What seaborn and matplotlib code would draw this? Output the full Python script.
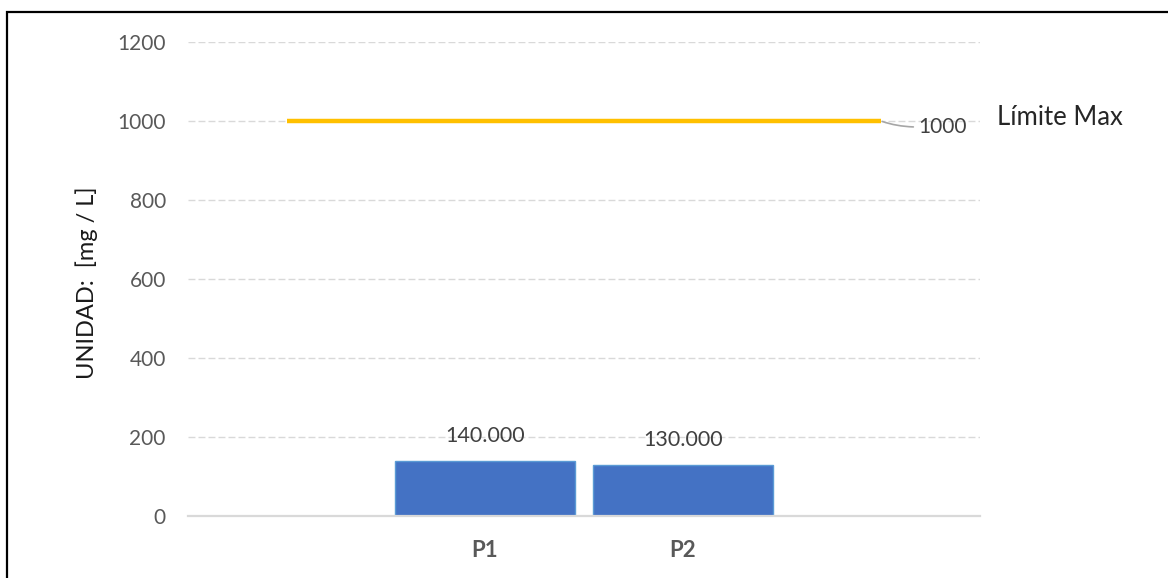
import matplotlib
matplotlib.use("Agg")
import matplotlib.pyplot as plt
import seaborn as sns
import pandas as pd
from matplotlib.patches import Rectangle

# ---- data ----
slots = ["inicio", "P1", "P2", "fin"]          # category slots on the x axis
slot_labels = ["", "P1", "P2", ""]
categories = ["P1", "P2"]
values = [140, 130]
value_labels = ["140.000", "130.000"]
limit_values = [1000, 1000, 1000, 1000]
limit_label_value = "1000"
limit_name = "Límite Max"
yticks = [0, 200, 400, 600, 800, 1000, 1200]
ylabel = "UNIDAD:  [mg / L]"

W, H = 1168, 578

sns.set_theme(style="white")
plt.rcParams['font.family'] = ['Lato', 'DejaVu Sans']

fig = plt.figure(figsize=(W / 100, H / 100), dpi=100)
ax = fig.add_axes([188 / W, 1 - 516 / H, (980 - 188) / W, (516 - 42) / H])

df = pd.DataFrame({"cat": categories, "val": values})
sns.barplot(data=df, x="cat", y="val", order=slots, width=0.91,
            color="#4472C4", saturation=1, edgecolor="#5B9BD5",
            linewidth=1.0, ax=ax, zorder=3)

sns.lineplot(x=list(range(len(slots))), y=limit_values, color="#FFC000",
             linewidth=3.2, ax=ax, zorder=4, solid_capstyle="butt")

ax.set_xlim(-0.5, len(slots) - 0.5)
ax.set_ylim(0, 1200)
ax.set_yticks(yticks)
ax.set_yticklabels([str(t) for t in yticks])
ax.set_xticks(range(len(slots)))
ax.set_xticklabels(slot_labels)

for lab in ax.get_xticklabels():
    lab.set_fontweight("bold")
    lab.set_fontsize(16)
    lab.set_color("#595959")
for lab in ax.get_yticklabels():
    lab.set_fontsize(15)
    lab.set_color("#595959")
ax.tick_params(axis="both", length=0)
ax.tick_params(axis="y", pad=16)
ax.tick_params(axis="x", pad=17)

ax.yaxis.grid(True, linestyle=(0, (5, 2.2)), color="#D9D9D9", linewidth=1.0, zorder=0)
ax.set_axisbelow(True)
for s in ["top", "right", "left"]:
    ax.spines[s].set_visible(False)
ax.spines["bottom"].set_color("#D9D9D9")
ax.spines["bottom"].set_linewidth(1.6)
ax.spines["bottom"].set_zorder(5)

ax.set_xlabel("")
ax.set_ylabel(ylabel, fontsize=17, color="#1A1A1A")
ax.yaxis.label.set_va("center")
ax.yaxis.set_label_coords((87 - 188) / (980 - 188), (516 - 282.5) / (516 - 42))

# bar value labels
for cat, v, txt in zip(categories, values, value_labels):
    ax.annotate(txt, xy=(slots.index(cat), v), xytext=(0, 25),
                textcoords="offset pixels", ha="center", va="center",
                fontsize=15.5, color="#404040", zorder=6)

# limit data label with leader line
ax.annotate(limit_label_value, xy=(len(slots) - 1, limit_values[-1]),
            xytext=(37, -12), textcoords="offset pixels",
            ha="left", va="baseline", fontsize=15, color="#404040",
            arrowprops=dict(arrowstyle="-", color="#A6A6A6", lw=1.2,
                            relpos=(0, 0.5), shrinkA=1, shrinkB=1,
                            connectionstyle="angle3,angleA=0,angleB=-20"),
            zorder=6)

# series name on the right
fig.text(997 / W, 1 - 125 / H, limit_name, ha="left", va="baseline",
         fontsize=18.5, color="#262626")

# frame (left/top border visible, rest cut off)
fig.patches.append(Rectangle((7 / W, -0.5), 2, 0.5 + 1 - 12 / H,
                             transform=fig.transFigure, fill=False,
                             edgecolor="#000000", linewidth=1.6))

fig.savefig("out.png", dpi=100)
